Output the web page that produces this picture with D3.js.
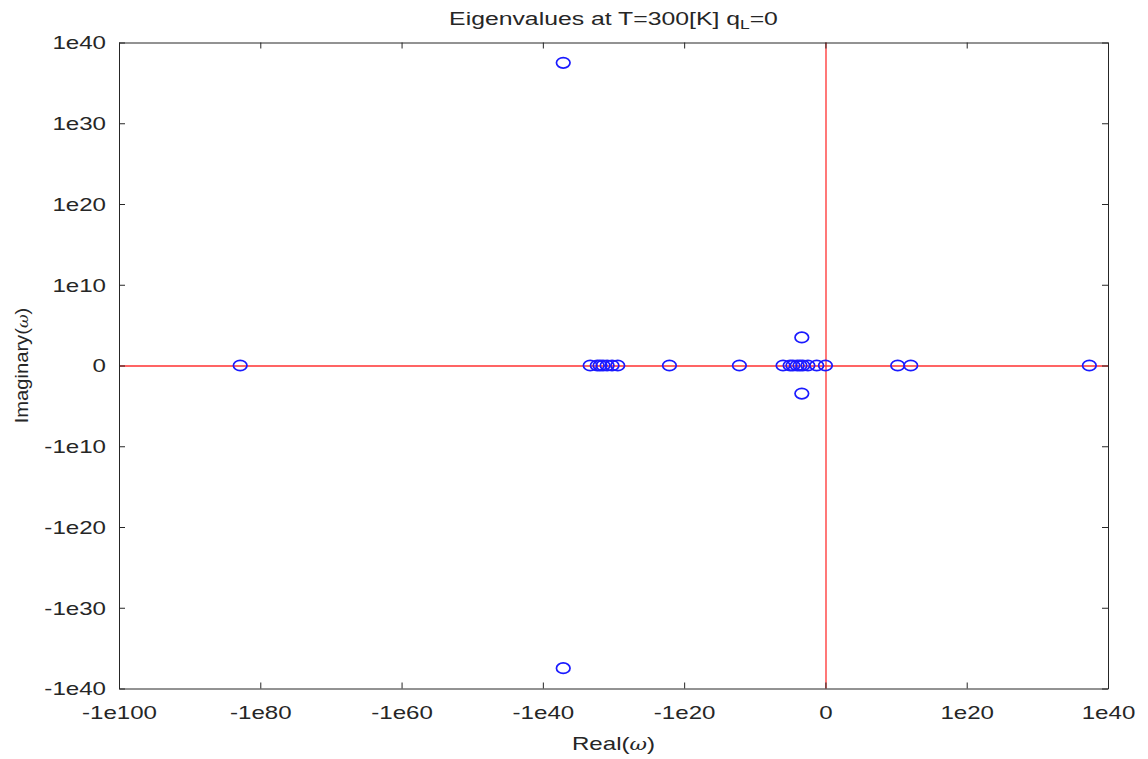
<!DOCTYPE html>
<html>
<head>
<meta charset="utf-8">
<script src="https://cdn.jsdelivr.net/npm/d3@7"></script>
<style>
  html, body { margin: 0; padding: 0; background: #fff; }
  svg text { font-family: "Liberation Sans", Arial, Helvetica, sans-serif; fill: #262626; }
</style>
</head>
<body>
<svg id="chart" width="1148" height="759"></svg>
<script>
// Eigenvalues (real and imaginary parts) of the system at T = 300 K, q_L = 0
const eigRe = [
  -7e82,
  -1.3e37, -1.3e37,
  -2e33, -2e32, -8e31, -3e31, -8e30, -1.6e30, -2.5e29,
  -1.2e22, -1.5e12,
  -1e6, -1e5, -4e4, -1e4, -4e3, -1.6e3, -300, -16, 0,
  -2.2e3, -2.2e3,
  1.7e10, 1.2e12, 2.3e37
];
const eigIm = [
  0,
  3e37, -3e37,
  0, 0, 0, 0, 0, 0, 0,
  0, 0,
  0, 0, 0, 0, 0, 0, 0, 0, 0,
  3e3, -3e3,
  0, 0, 0
];

const xTicks = [-1e100, -1e80, -1e60, -1e40, -1e20, 0, 1e20, 1e40];
const xTickLabels = ["-1e100", "-1e80", "-1e60", "-1e40", "-1e20", "0", "1e20", "1e40"];
const yTicks = [-1e40, -1e30, -1e20, -1e10, 0, 1e10, 1e20, 1e30, 1e40];
const yTickLabels = ["-1e40", "-1e30", "-1e20", "-1e10", "0", "1e10", "1e20", "1e30", "1e40"];

const svg = d3.select("#chart");
const plot = { left: 119, right: 1108, top: 42.5, bottom: 688.5 };
const sx = 1.34;          // horizontal text stretch
const axisColor = "#262626";

const x = d3.scaleSymlog().constant(1).domain([-1e100, 1e40]).range([plot.left, plot.right]);
const y = d3.scaleSymlog().constant(1).domain([-1e40, 1e40]).range([plot.bottom, plot.top]);

// white plotting area
svg.append("rect")
  .attr("x", plot.left).attr("y", plot.top)
  .attr("width", plot.right - plot.left).attr("height", plot.bottom - plot.top)
  .attr("fill", "#fff");

function styleAxis(g) {
  g.select(".domain").attr("stroke", axisColor).attr("stroke-width", 1);
  g.selectAll(".tick line").attr("stroke", axisColor).attr("stroke-width", 1);
}

// zero lines (drawn beneath the axes and markers), soft 2-px red
const zx = Math.round(x(0)) + 1;
const zy = Math.round(y(0));
svg.append("line")
  .attr("x1", plot.left).attr("x2", plot.right)
  .attr("y1", zy).attr("y2", zy)
  .style("stroke", "#ff3030").style("stroke-width", 1.3);
svg.append("line")
  .attr("x1", zx).attr("x2", zx)
  .attr("y1", plot.top).attr("y2", plot.bottom)
  .style("stroke", "#ff3030").style("stroke-width", 1.3);

// bottom axis with labels
const gx = svg.append("g").attr("transform", `translate(0,${plot.bottom})`)
  .call(d3.axisBottom(x).tickValues(xTicks)
    .tickFormat((d, i) => xTickLabels[i])
    .tickSizeInner(-6).tickSizeOuter(0).tickPadding(0));
styleAxis(gx);
gx.selectAll(".tick text")
  .attr("y", 0).attr("dy", null)
  .attr("font-size", 18)
  .attr("transform", `translate(0,30) scale(${sx},1)`);

// left axis with labels
const gy = svg.append("g").attr("transform", `translate(${plot.left},0)`)
  .call(d3.axisLeft(y).tickValues(yTicks)
    .tickFormat((d, i) => yTickLabels[i])
    .tickSizeInner(-6).tickSizeOuter(0).tickPadding(0));
styleAxis(gy);
gy.selectAll(".tick text")
  .attr("x", 0).attr("dy", "0.35em")
  .attr("font-size", 18)
  .attr("transform", `translate(-13,0) scale(${sx},1)`);

// top and right axes: ticks only
const gt = svg.append("g").attr("transform", `translate(0,${plot.top})`)
  .call(d3.axisTop(x).tickValues(xTicks).tickFormat("").tickSizeInner(-6).tickSizeOuter(0));
styleAxis(gt);
const gr = svg.append("g").attr("transform", `translate(${plot.right},0)`)
  .call(d3.axisRight(y).tickValues(yTicks).tickFormat("").tickSizeInner(-6).tickSizeOuter(0));
styleAxis(gr);

// eigenvalue markers (open circles)
const pts = eigRe.map((re, i) => ({ re, im: eigIm[i] }));
svg.append("g").selectAll("ellipse").data(pts).join("ellipse")
  .attr("cx", d => x(d.re))
  .attr("cy", d => y(d.im))
  .attr("rx", 6.8).attr("ry", 5.2)
  .attr("fill", "none")
  .attr("stroke", "#1a1aff")
  .attr("stroke-width", 1.7);

// title
const title = svg.append("text")
  .attr("text-anchor", "middle")
  .attr("font-size", 18.5)
  .attr("transform", `translate(${(plot.left + plot.right) / 2},25) scale(${sx},1)`);
title.append("tspan").text("Eigenvalues at T=300[K] q");
title.append("tspan").attr("font-size", 13).attr("dy", 4).text("L");
title.append("tspan").attr("dy", -4).text("=0");

// x label
const xl = svg.append("text")
  .attr("text-anchor", "middle")
  .attr("font-size", 18)
  .attr("transform", `translate(${(plot.left + plot.right) / 2},750) scale(${sx},1)`);
xl.append("tspan").text("Real(");
xl.append("tspan").attr("font-style", "italic").attr("font-family", "DejaVu Serif, serif").attr("font-size", 16).text("ω");
xl.append("tspan").text(")");

// y label
const yl = svg.append("text")
  .attr("text-anchor", "middle")
  .attr("font-size", 18)
  .attr("transform", `translate(28,${(plot.top + plot.bottom) / 2}) scale(1,1.12) rotate(-90)`);
yl.append("tspan").text("Imaginary(");
yl.append("tspan").attr("font-style", "italic").attr("font-family", "DejaVu Serif, serif").attr("font-size", 15).text("ω");
yl.append("tspan").text(")");
</script>
</body>
</html>
